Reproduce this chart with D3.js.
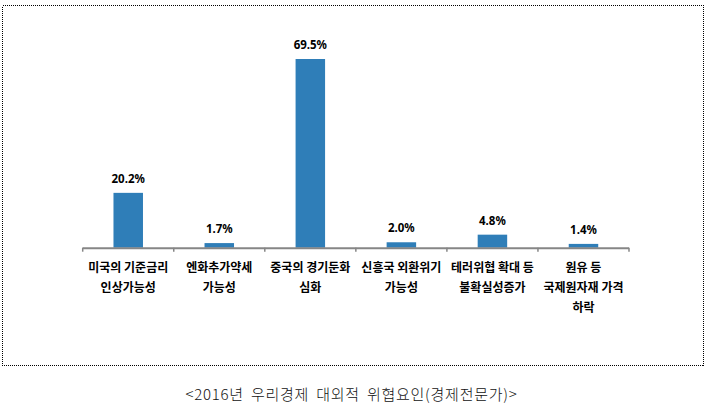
<!DOCTYPE html>
<html><head><meta charset="utf-8">
<script src="https://cdn.jsdelivr.net/npm/d3@7"></script>
<style>
html,body{margin:0;padding:0;background:#fff;}
svg{display:block;}
</style></head>
<body>
<script>
const categories = [
  ["미국의 기준금리", "인상가능성"],
  ["엔화추가약세", "가능성"],
  ["중국의 경기둔화", "심화"],
  ["신흥국 외환위기", "가능성"],
  ["테러위협 확대 등", "불확실성증가"],
  ["원유 등", "국제원자재 가격", "하락"]
];
const values = [20.2, 1.7, 69.5, 2.0, 4.8, 1.4];
const valueLabels = ["20.2%", "1.7%", "69.5%", "2.0%", "4.8%", "1.4%"];
const title = "<2016년 우리경제 대외적 위협요인(경제전문가)>";

const W = 709, H = 407;
const svg = d3.select("body").append("svg").attr("width", W).attr("height", H);

// dotted frame
svg.append("rect").attr("x", 2.5).attr("y", 5.5).attr("width", 701).attr("height", 360)
  .attr("fill", "none").attr("stroke", "#000").attr("stroke-width", 1).attr("stroke-dasharray", "1,1")
  .attr("shape-rendering", "crispEdges");

const x = d3.scaleBand().domain(d3.range(categories.length)).range([82.7, 629])
  .paddingInner(0.676).paddingOuter(0.338);
const y = d3.scaleLinear().domain([0, 80]).range([247.7, 30.5]);

svg.selectAll("rect.bar").data(values).enter().append("rect").attr("class", "bar")
  .attr("x", (d, i) => x(i)).attr("width", x.bandwidth())
  .attr("y", d => y(d)).attr("height", d => y(0) - y(d))
  .attr("fill", "#2f7eb8");

svg.selectAll("text.val").data(values).enter().append("text").attr("class", "val")
  .attr("x", (d, i) => x(i) + x.bandwidth() / 2).attr("y", d => y(d) - 10)
  .attr("text-anchor", "middle").attr("font-family", "'Noto Sans', 'Noto Sans CJK KR', sans-serif")
  .attr("font-weight", "bold").attr("font-size", "11.5px").attr("fill", "#000")
  .text((d, i) => valueLabels[i]);

// axis
const x0 = 82.7, x1 = 629, step = x.step();
svg.append("line").attr("x1", x0).attr("x2", x1).attr("y1", y(0) + 0.5).attr("y2", y(0) + 0.5)
  .attr("stroke", "#868686").attr("stroke-width", 2);
d3.range(categories.length + 1).forEach(i => {
  const xx = x0 + i * step;
  svg.append("line").attr("x1", xx).attr("x2", xx).attr("y1", y(0)).attr("y2", y(0) + 4)
    .attr("stroke", "#868686").attr("stroke-width", 1.5);
});

const lab = svg.selectAll("g.cat").data(categories).enter().append("g").attr("class", "cat");
lab.each(function(lines, i) {
  const g = d3.select(this);
  lines.forEach((ln, j) => {
    g.append("text").attr("x", x(i) + x.bandwidth() / 2).attr("y", 271.8 + j * 20.2)
      .attr("text-anchor", "middle").attr("font-family", "'Noto Sans CJK KR', sans-serif")
      .attr("font-size", "12px").attr("font-weight", 600).attr("fill", "#000").text(ln);
  });
});

svg.append("text").attr("x", 351.5).attr("y", 400).attr("text-anchor", "middle")
  .attr("font-family", "'Noto Sans CJK KR', sans-serif").attr("font-size", "15px")
  .attr("letter-spacing", "0.75px").attr("word-spacing", "3px")
  .attr("font-weight", 300).attr("fill", "#111").text(title);
</script>
</body></html>
